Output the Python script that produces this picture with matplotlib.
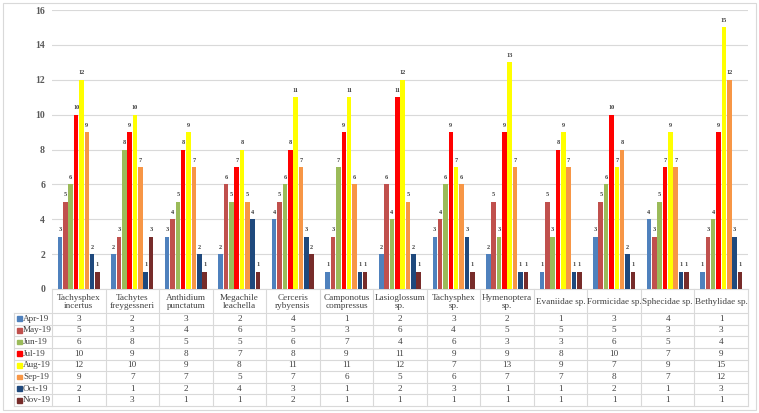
import matplotlib
matplotlib.use("Agg")
import matplotlib.pyplot as plt
from matplotlib.lines import Line2D
from matplotlib.patches import Rectangle
import numpy as np

categories = ["Tachysphex\nincertus", "Tachytes\nfreygessneri", "Anthidium\npunctatum",
              "Megachile\nleachella", "Cerceris\nrybyensis", "Camponotus\ncompressus",
              "Lasioglossum\nsp.", "Tachysphex\nsp.", "Hymenoptera\nsp.", "Evaniidae sp.",
              "Formicidae sp.", "Sphecidae sp.", "Bethylidae sp."]
series_names = ["Apr-19", "May-19", "Jun-19", "Jul-19", "Aug-19", "Sep-19", "Oct-19", "Nov-19"]
apr = [3, 2, 3, 2, 4, 1, 2, 3, 2, 1, 3, 4, 1]
may = [5, 3, 4, 6, 5, 3, 6, 4, 5, 5, 5, 3, 3]
jun = [6, 8, 5, 5, 6, 7, 4, 6, 3, 3, 6, 5, 4]
jul = [10, 9, 8, 7, 8, 9, 11, 9, 9, 8, 10, 7, 9]
aug = [12, 10, 9, 8, 11, 11, 12, 7, 13, 9, 7, 9, 15]
sep = [9, 7, 7, 5, 7, 6, 5, 6, 7, 7, 8, 7, 12]
oct_ = [2, 1, 2, 4, 3, 1, 2, 3, 1, 1, 2, 1, 3]
nov = [1, 3, 1, 1, 2, 1, 1, 1, 1, 1, 1, 1, 1]
series = [apr, may, jun, jul, aug, sep, oct_, nov]
colors = ["#4F81BD", "#C0504D", "#9BBB59", "#FF0000", "#FFFF00", "#F79646", "#1F497D", "#772C2A"]
yticks = [0, 2, 4, 6, 8, 10, 12, 14, 16]

W, H = 759, 413
fig = plt.figure(figsize=(W / 100, H / 100), dpi=100)
serif = ["Liberation Serif", "DejaVu Serif"]

def fx(px):
    return px / W

def fy(py):
    return 1 - py / H

# border around the figure
fig.add_artist(Rectangle((fx(3), fy(410)), fx(753), 407 / H, fill=False,
                         edgecolor="#D9D9D9", lw=0.8, transform=fig.transFigure))

left, right, top, bottom = 52, 748, 10, 289
ax = fig.add_axes([fx(left), fy(bottom), fx(right - left), (bottom - top) / H])
n = len(categories)
x = np.arange(n)
slot = 0.1
bw = 0.085
for i, (vals, c) in enumerate(zip(series, colors)):
    pos = x - 0.4 + slot * (i + 0.5)
    ax.bar(pos, vals, width=bw, color=c, zorder=3)
    for xb, v in zip(pos, vals):
        ax.text(xb, v + 0.25, str(v), ha="center", va="bottom", fontsize=4.5,
                fontweight="bold", family=serif, color="#404040", zorder=4)

ax.set_xlim(-0.5, n - 0.5)
ax.set_ylim(0, 16)
ax.set_yticks(yticks)
ax.set_yticklabels([str(t) for t in yticks], family=serif, fontweight="bold",
                   fontsize=7, color="#595959")
ax.tick_params(axis="y", length=0, pad=5)
ax.set_xticks([])
ax.grid(axis="y", color="#D9D9D9", lw=0.8, zorder=0)
for s in ["top", "right", "left"]:
    ax.spines[s].set_visible(False)
ax.spines["bottom"].set_color("#D9D9D9")
ax.spines["bottom"].set_linewidth(0.8)

# table
colw = (right - left) / n
header_bot = 313
row_h = (406 - header_bot) / len(series_names)
leg_left = 14
lc = "#D9D9D9"
fs = 6.6

def hline(y, x0, x1):
    fig.add_artist(Line2D([fx(x0), fx(x1)], [fy(y), fy(y)], color=lc, lw=0.8,
                          transform=fig.transFigure))

def vline(xp, y0, y1):
    fig.add_artist(Line2D([fx(xp), fx(xp)], [fy(y0), fy(y1)], color=lc, lw=0.8,
                          transform=fig.transFigure))

for r in range(len(series_names) + 1):
    hline(header_bot + r * row_h, leg_left, right)
for j in range(n + 1):
    vline(left + j * colw, bottom, 406)
vline(leg_left, header_bot, 406)

for j, cat in enumerate(categories):
    fig.text(fx(left + (j + 0.5) * colw), fy((bottom + header_bot) / 2 + 0.5), cat,
             ha="center", va="center", fontsize=fs, family=serif, color="#404040",
             linespacing=1.0)

for r, (name, vals, c) in enumerate(zip(series_names, series, colors)):
    yc = header_bot + (r + 0.5) * row_h
    fig.add_artist(Rectangle((fx(17), fy(yc + 2.4)), fx(4.8), 4.8 / H, color=c,
                             transform=fig.transFigure))
    fig.text(fx(23), fy(yc), name, ha="left", va="center", fontsize=fs,
             family=serif, color="#404040")
    for j, v in enumerate(vals):
        fig.text(fx(left + (j + 0.5) * colw), fy(yc), str(v), ha="center", va="center",
                 fontsize=fs, family=serif, color="#404040")

fig.savefig("out.png", dpi=100)
